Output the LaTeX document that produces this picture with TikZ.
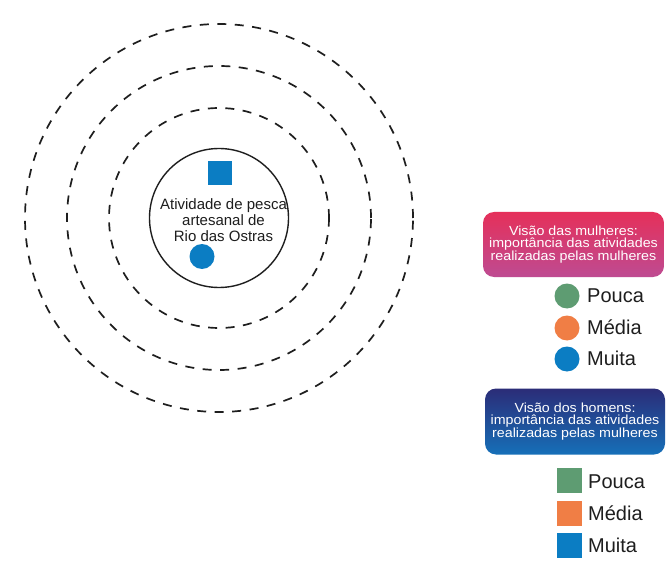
\documentclass[tikz,border=0pt]{standalone}
\usepackage{fontspec}
\setmainfont{Liberation Sans}
\newfontfamily\boxfont[FakeStretch=1.08]{Liberation Sans}
\definecolor{mblue}{HTML}{0B7DC3}
\definecolor{mgreen}{HTML}{5E9C72}
\definecolor{morange}{HTML}{F07E45}
\definecolor{pinktop}{HTML}{E5305A}
\definecolor{pinkbot}{HTML}{BE4B92}
\definecolor{navytop}{HTML}{2B2C78}
\definecolor{navybot}{HTML}{1670B8}
\definecolor{ink}{HTML}{1E1E1E}
\begin{document}
\begin{tikzpicture}[x=1pt,y=-1pt]
\useasboundingbox[fill=white] (0,0) rectangle (670,567);
\tikzset{
  ring/.style={draw=ink, line width=1.7pt, dash pattern=on 9pt off 8.5pt},
  legbox/.style={rounded corners=11pt, text=white, align=center, inner sep=0pt,
    minimum width=181pt, minimum height=65pt,
    font=\boxfont\fontsize{13.2}{12.6}\selectfont},
  dotkey/.style={circle, minimum size=25pt, inner sep=0pt},
  sqkey/.style={rectangle, minimum size=25pt, inner sep=0pt},
  keytext/.style={anchor=base west, text=ink, inner sep=0pt, font=\fontsize{20}{22}\selectfont}
}
% rings
\draw[ring] (219,218) circle[radius=110pt];
\draw[ring] (219,218) circle[radius=152pt];
\draw[ring] (219,218) circle[radius=194pt];
% core
\node[draw=ink, circle, line width=1.4pt, minimum size=139pt, inner sep=0pt] (core) at (219,218) {};
\node[align=center, text=ink, inner sep=0pt, font=\fontsize{15}{16.3}\selectfont] (title) at (223.5,220) {Atividade de pesca\\artesanal de\\Rio das Ostras};
\node[sqkey, fill=mblue, minimum size=24pt] (sq) at (220,173) {};
\node[dotkey, fill=mblue] (dot) at (202,256.5) {};
% legend women
\node[legbox, top color=pinktop, bottom color=pinkbot] (wbox) at (573.5,244.5) {Visão das mulheres:\\importância das atividades\\realizadas pelas mulheres};
\node[dotkey, fill=mgreen] (wp) at (567,296) {};
\node[dotkey, fill=morange] (wm) at (567,328) {};
\node[dotkey, fill=mblue] (wu) at (567,359) {};
\node[keytext] (wpt) at (587,302.7) {Pouca};
\node[keytext] (wmt) at (587,334.7) {Média};
\node[keytext] (wut) at (587,365.7) {Muita};
% legend men
\node[legbox, top color=navytop, bottom color=navybot, minimum width=180pt, minimum height=66pt] (mbox) at (575,421.5) {Visão dos homens:\\importância das atividades\\realizadas pelas mulheres};
\node[sqkey, fill=mgreen] (mp) at (569.5,480.5) {};
\node[sqkey, fill=morange] (mm) at (569.5,513.5) {};
\node[sqkey, fill=mblue] (mu) at (569.5,545.5) {};
\node[keytext] (mpt) at (588,488.3) {Pouca};
\node[keytext] (mmt) at (588,520.3) {Média};
\node[keytext] (mut) at (588,552.3) {Muita};
\end{tikzpicture}
\end{document}
